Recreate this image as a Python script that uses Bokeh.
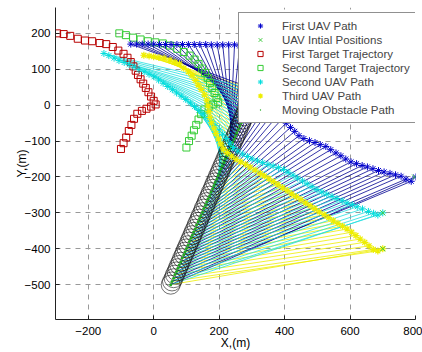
from bokeh.plotting import figure
from bokeh.models import Range1d, FixedTicker, Legend, LegendItem
from bokeh.embed import file_html
from bokeh.resources import INLINE

# ---- data ----
# first UAV path (t = 0 .. 59)
uav1_x = [800, 787, 771, 756, 739, 722, 704, 687, 670, 653,
          637, 620, 603, 587, 572, 557, 541, 526, 509, 493,
          476, 459, 444, 431, 418, 405, 396, 388, 381, 374,
          367, 359, 352, 345, 338, 330, 317, 304, 290, 277,
          263, 247, 229, 211, 194, 176, 159, 141, 124, 106,
          88, 71, 53, 36, 18, 0, -17, -35, -52, -70]
uav1_y = [-200, -212, -206, -198, -194, -190, -186, -182, -177, -172,
          -168, -163, -158, -150, -141, -133, -124, -115, -110, -104,
          -99, -93, -85, -73, -62, -50, -35, -19, -3, 13,
          29, 45, 61, 77, 93, 109, 121, 132, 143, 154,
          165, 168, 168, 168, 168, 168, 169, 169, 169, 169,
          169, 169, 169, 169, 169, 170, 170, 170, 170, 170]
# second UAV path
uav2_x = [700, 685, 672, 656, 638, 622, 607, 591, 576, 560,
          545, 529, 514, 499, 484, 469, 455, 440, 426, 411,
          397, 381, 365, 349, 333, 317, 301, 287, 272, 257,
          244, 233, 222, 211, 200, 188, 177, 164, 151, 138,
          125, 112, 98, 84, 70, 57, 43, 29, 15, 1,
          -14, -29, -45, -60, -75, -90, -106, -121, -137, -152]
uav2_y = [-300, -306, -301, -296, -289, -283, -277, -272, -266, -260,
          -254, -248, -242, -235, -227, -219, -211, -203, -195, -187,
          -179, -174, -169, -165, -160, -155, -150, -143, -136, -128,
          -118, -106, -93, -81, -69, -57, -45, -34, -24, -14,
          -4, 6, 16, 25, 34, 43, 52, 61, 70, 79,
          86, 93, 99, 106, 113, 119, 124, 131, 138, 144]
# third UAV path
uav3_x = [700, 685, 671, 658, 645, 631, 618, 605, 591, 577,
          563, 549, 535, 521, 506, 492, 478, 464, 450, 436,
          422, 408, 394, 380, 366, 352, 338, 326, 310, 295,
          281, 266, 252, 238, 225, 213, 205, 198, 190, 184,
          177, 172, 169, 166, 162, 155, 145, 136, 127, 117,
          106, 92, 79, 65, 50, 32, 16, 0, -14, -30]
uav3_y = [-400, -406, -402, -392, -382, -373, -363, -354, -345, -337,
          -329, -322, -313, -305, -297, -288, -280, -272, -263, -255,
          -247, -238, -230, -221, -213, -205, -197, -190, -181, -173,
          -165, -158, -151, -142, -132, -122, -108, -94, -79, -64,
          -49, -34, -18, -2, 14, 29, 44, 56, 69, 82,
          93, 103, 115, 120, 126, 131, 133, 135, 137, 139]
# moving obstacle path
obs_x = [52, 56, 61, 65, 70, 74, 78, 83, 87, 92,
         96, 100, 105, 109, 114, 118, 122, 127, 131, 136,
         140, 144, 149, 153, 158, 162, 166, 171, 175, 180,
         184, 188, 193, 197, 202, 206, 210, 215, 219, 224,
         228, 232, 237, 241, 246, 250, 254, 259, 263, 268,
         272, 276, 281, 285, 290, 294, 298, 303, 307, 312]
obs_y = [-500, -491, -482, -472, -463, -454, -445, -436, -426, -417,
         -408, -399, -390, -380, -371, -362, -353, -344, -334, -325,
         -316, -307, -298, -288, -279, -270, -261, -252, -242, -233,
         -224, -215, -206, -196, -187, -178, -169, -160, -150, -141,
         -132, -123, -114, -104, -95, -86, -77, -68, -58, -49,
         -40, -31, -22, -12, -3, 6, 15, 24, 34, 43]
# UAV initial positions
init_x = [797, 700, 700]
init_y = [-200, -300, -400]
# first target trajectory
tgt1_x = [-295, -275, -255, -232, -210, -188, -165, -145, -125, -108,
          -92, -80, -70, -62, -55, -48, -40, -32, -24, -16,
          -8, 0, 6, -8, -22, -36, -50, -60, -68, -76,
          -84, -92, -100]
tgt1_y = [200, 198, 193, 185, 180, 178, 173, 170, 162, 152,
          143, 132, 120, 108, 96, 84, 72, 60, 48, 36,
          24, 12, 2, -4, -10, -16, -24, -38, -55, -72,
          -90, -106, -122]
# second target trajectory
tgt2_x = [-105, -85, -63, -40, -18, 5, 28, 50, 72, 92,
          110, 125, 137, 148, 157, 165, 172, 179, 186, 192,
          197, 182, 168, 155, 145, 137, 130, 123, 116, 108,
          100]
tgt2_y = [200, 195, 188, 183, 178, 175, 172, 166, 157, 148,
          138, 127, 115, 102, 90, 76, 62, 48, 34, 20,
          8, 2, -4, -12, -25, -40, -55, -70, -85, -100,
          -118]

x_ticks = [-200, 0, 200, 400, 600, 800]
y_ticks = [-500, -400, -300, -200, -100, 0, 100, 200]
legend_labels = ["First UAV Path", "UAV Intial Positions", "First Target Trajectory",
                 "Second Target Trajectory", "Second UAV Path", "Third UAV Path",
                 "Moving Obstacle Path"]

FONT = "Liberation Sans"

p = figure(width=422, height=352, output_backend="svg", toolbar_location=None,
           x_range=Range1d(-300, 800), y_range=Range1d(-597, 272),
           min_border_left=55, min_border_right=7, min_border_top=7, min_border_bottom=32)
p.outline_line_color = None
p.background_fill_color = "white"

# hatch lines: each UAV to the obstacle at the same time step
p.segment(x0=uav3_x, y0=uav3_y, x1=obs_x, y1=obs_y, line_color="#eeee00", line_width=0.8)
p.segment(x0=uav1_x, y0=uav1_y, x1=obs_x, y1=obs_y, line_color="#000090", line_width=0.8)
p.segment(x0=uav2_x, y0=uav2_y, x1=obs_x, y1=obs_y, line_color="#22dede", line_width=0.8)

r_t1 = p.scatter(tgt1_x, tgt1_y, marker="square", size=7, fill_color=None,
                 line_color="#b80000", line_width=1)
r_t2 = p.scatter(tgt2_x, tgt2_y, marker="square", size=7, fill_color=None,
                 line_color="#33cc33", line_width=1)

p.scatter(obs_x, obs_y, marker="circle", size=19, fill_color=None,
          line_color="#111111", line_width=0.6)
r_obs = p.scatter(obs_x, obs_y, marker="dot", size=12, line_color="#22aa22",
                  fill_color="#22aa22")

r_u1 = p.scatter(uav1_x, uav1_y, marker="asterisk", size=7, line_color="#0000cc", line_width=1)
r_u2 = p.scatter(uav2_x, uav2_y, marker="asterisk", size=7, line_color="#00dddd", line_width=1)
r_u3 = p.scatter(uav3_x, uav3_y, marker="asterisk", size=7, line_color="#eeee00", line_width=1.2)
r_init = p.scatter(init_x, init_y, marker="x", size=7, line_color="#44cc44", line_width=1)

# axes
for ax in (p.xaxis, p.yaxis):
    ax.major_tick_in = 4
    ax.major_tick_out = 0
    ax.minor_tick_in = 0
    ax.minor_tick_out = 0
    ax.axis_line_color = "#222222"
    ax.major_tick_line_color = "#222222"
    ax.major_label_text_font = FONT
    ax.major_label_text_font_size = "11.5px"
    ax.major_label_text_color = "black"
    ax.axis_label_text_font = FONT
    ax.axis_label_text_font_size = "12px"
    ax.axis_label_text_font_style = "normal"
    ax.axis_label_text_color = "black"
p.xaxis.ticker = FixedTicker(ticks=x_ticks)
p.yaxis.ticker = FixedTicker(ticks=y_ticks)
p.xaxis.major_label_standoff = 7
p.yaxis.major_label_standoff = 5
p.xaxis.axis_label = "X,(m)"
p.yaxis.axis_label = "Y,(m)"
p.xaxis.axis_label_standoff = -2
p.yaxis.axis_label_standoff = -7

for g in (p.xgrid, p.ygrid):
    g.grid_line_color = "#999999"
    g.grid_line_dash = "5 5"
    g.grid_line_width = 1
p.xgrid.ticker = FixedTicker(ticks=x_ticks)
p.ygrid.ticker = FixedTicker(ticks=y_ticks)

renderers = [r_u1, r_init, r_t1, r_t2, r_u2, r_u3, r_obs]
legend = Legend(items=[LegendItem(label=lab, renderers=[r]) for lab, r in zip(legend_labels, renderers)],
                location=(183, 196))
legend.label_text_font = FONT
legend.label_text_font_size = "11.5px"
legend.label_height = 13
legend.glyph_height = 13
legend.glyph_width = 30
legend.label_standoff = 7
legend.spacing = 1
legend.padding = 6
legend.margin = 0
legend.border_line_color = "#222222"
legend.border_line_width = 1
legend.background_fill_alpha = 1
p.add_layout(legend)

open("out.html", "w").write(file_html(p, INLINE))
